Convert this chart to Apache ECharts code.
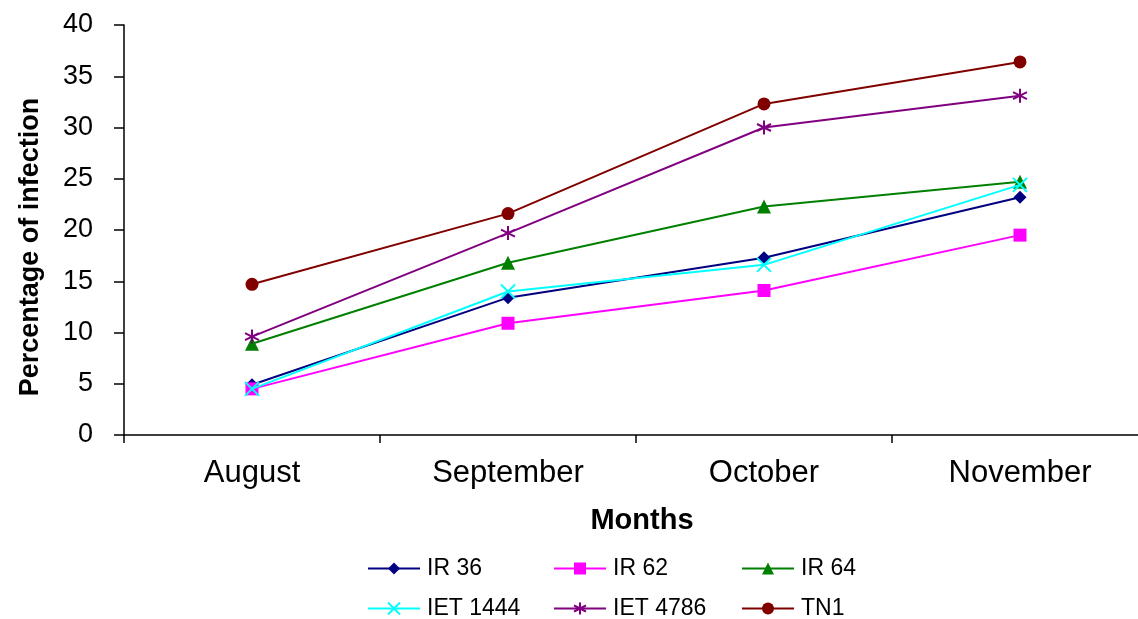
<!DOCTYPE html>
<html><head><meta charset="utf-8">
<script src="https://cdn.jsdelivr.net/npm/echarts@6/dist/echarts.min.js"></script>
<style>html,body{margin:0;padding:0;background:#fff;overflow:hidden}#c{width:1148px;height:619px}</style>
</head><body><div id="c"></div>
<script>
const months = ['August', 'September', 'October', 'November'];
const seriesNames = ['IR 36', 'IR 62', 'IR 64', 'IET 1444', 'IET 4786', 'TN1'];
const ir36 = [4.9, 13.4, 17.3, 23.2];
const ir62 = [4.5, 10.9, 14.1, 19.5];
const ir64 = [8.9, 16.8, 22.3, 24.7];
const iet1444 = [4.5, 14.0, 16.6, 24.4];
const iet4786 = [9.6, 19.7, 30.0, 33.1];
const tn1 = [14.7, 21.6, 32.3, 36.4];
const yTicks = [0, 5, 10, 15, 20, 25, 30, 35, 40];

const colors = ['#000080', '#FF00FF', '#008000', '#00FFFF', '#800080', '#800000'];
const symbols = [
  'diamond', 'rect', 'triangle',
  'path://M0,0L10,10M10,0L0,10',
  'path://M5,0L5,10M0.7,2.5L9.3,7.5M9.3,2.5L0.7,7.5',
  'circle'
];
const symSizes = [13, 13, 14, 14, 14, 13];
const values = [ir36, ir62, ir64, iet1444, iet4786, tn1];
const font = 'Liberation Sans, Arial, sans-serif';

const series = seriesNames.map((n, i) => {
  const stroke = i === 3 || i === 4;
  return {
    name: n, type: 'line', data: values[i],
    symbol: symbols[i], symbolSize: symSizes[i], showSymbol: true,
    lineStyle: {color: colors[i], width: 2},
    itemStyle: stroke ? {color: colors[i], borderColor: colors[i], borderWidth: 2} : {color: colors[i]},
    z: 2 + i
  };
});

const legendX = [362, 548, 736];
const legendY = [552, 592];
const legends = seriesNames.map((n, i) => ({
  data: [n],
  left: legendX[i % 3], top: legendY[Math.floor(i / 3)],
  itemWidth: 52, itemHeight: 15, itemGap: 0,
  textStyle: {fontFamily: font, fontSize: 23, color: '#000', padding: [0, 0, 0, 2]},
  selectedMode: false
}));

const chart = echarts.init(document.getElementById('c'));
chart.setOption({
  animation: false,
  backgroundColor: '#fff',
  grid: {left: 124, top: 25, right: 0, height: 410, containLabel: false},
  legend: legends,
  xAxis: {
    type: 'category', data: months, boundaryGap: true,
    name: 'Months', nameLocation: 'middle', nameGap: 71,
    nameTextStyle: {fontFamily: font, fontSize: 29, fontWeight: 'bold', color: '#000', padding: [0, 0, 0, 12]},
    axisLine: {lineStyle: {color: '#000', width: 1.5}},
    axisTick: {show: true, length: 8, inside: false, lineStyle: {color: '#000', width: 1.5}},
    axisLabel: {fontFamily: font, fontSize: 31, color: '#000', margin: 23}
  },
  yAxis: {
    type: 'value', min: 0, max: 40, interval: 5,
    name: 'Percentage of infection', nameLocation: 'middle', nameGap: 80,
    nameTextStyle: {fontFamily: font, fontSize: 27, fontWeight: 'bold', color: '#000', padding: [0, 34, 0, 0]},
    axisLine: {show: true, lineStyle: {color: '#000', width: 1.5}},
    axisTick: {show: true, length: 10, lineStyle: {color: '#000', width: 1.5}},
    axisLabel: {fontFamily: font, fontSize: 27, color: '#000', margin: 31,
      formatter: v => yTicks.includes(v) ? String(v) : ''},
    splitLine: {show: false}
  },
  series: series
});
</script></body></html>
